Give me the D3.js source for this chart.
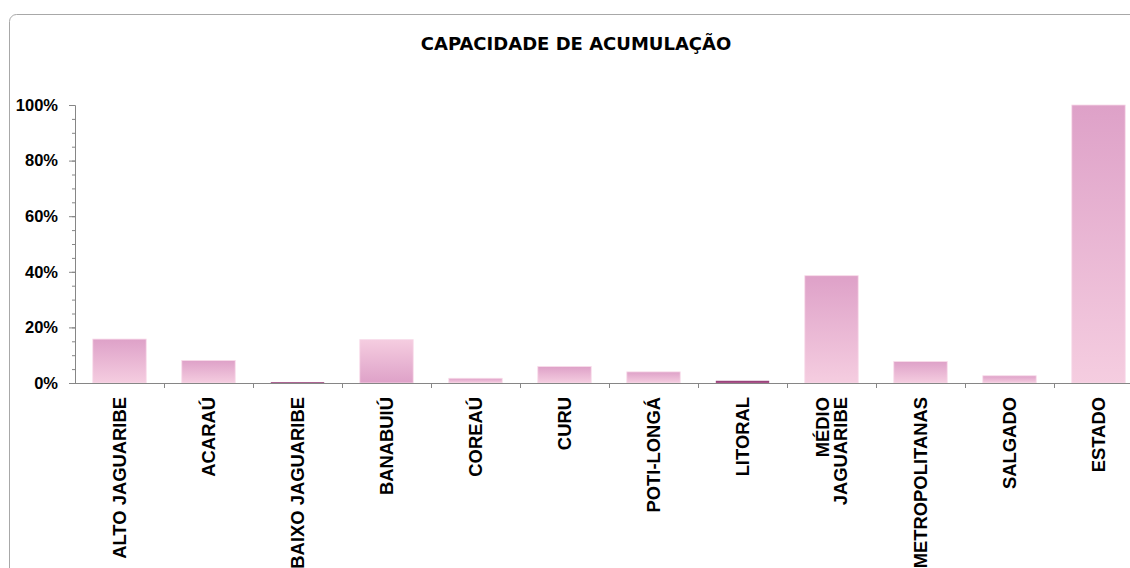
<!DOCTYPE html>
<html>
<head>
<meta charset="utf-8">
<script src="https://cdn.jsdelivr.net/npm/d3@7"></script>
<style>
  body { margin: 0; background: #fff; }
  .tick text { font-family: "Liberation Sans", Arial, sans-serif; font-weight: bold; fill: #000; }
</style>
</head>
<body>
<svg id="chart" width="1130" height="568"></svg>
<script>
let categories = ['ALTO JAGUARIBE', 'ACARAÚ', 'BAIXO JAGUARIBE', 'BANABUIÚ', 'COREAÚ', 'CURU',
  'POTI-LONGÁ', 'LITORAL', 'MÉDIO JAGUARIBE', 'METROPOLITANAS', 'SALGADO', 'ESTADO'];
let capacidade = [0.158, 0.081, 0.003, 0.156, 0.017, 0.059, 0.040, 0.008, 0.386, 0.077, 0.026, 1.00];
let yTicks = [0, 0.2, 0.4, 0.6, 0.8, 1.0];
let title = 'CAPACIDADE DE ACUMULAÇÃO';

let svg = d3.select('#chart');

// chart area frame
svg.append('rect')
  .attr('x', 9.5).attr('y', 14.5)
  .attr('width', 1150).attr('height', 600)
  .attr('rx', 7)
  .attr('fill', 'none')
  .attr('stroke', '#a8a8a8');

svg.append('text')
  .attr('x', 576).attr('y', 50)
  .attr('text-anchor', 'middle')
  .style('font-family', '"DejaVu Sans", Verdana, sans-serif')
  .style('font-weight', 'bold')
  .style('font-size', '18px')
  .text(title);

let x = d3.scaleBand()
  .domain(categories)
  .range([75, 1143])
  .paddingInner(0.4)
  .paddingOuter(0.2);
let y = d3.scaleLinear()
  .domain([0, 1])
  .range([383, 105]);

// gradients: dark at top, light at bottom (banabuiú is the other way round)
let defs = svg.append('defs');
function gradient(id, top, bottom) {
  let g = defs.append('linearGradient').attr('id', id)
    .attr('x1', 0).attr('y1', 0).attr('x2', 0).attr('y2', 1);
  g.append('stop').attr('offset', '0%').attr('stop-color', top);
  g.append('stop').attr('offset', '100%').attr('stop-color', bottom);
}
gradient('gDown', '#dea1c8', '#f5cde0');
gradient('gUp', '#f5cde0', '#dea1c8');
gradient('gDark', '#8e3a72', '#b0588f');

function fillFor(d) {
  if (d.cat == 'BANABUIÚ') return 'url(#gUp)';
  if (y(0) - y(d.v) < 3) return 'url(#gDark)';
  return 'url(#gDown)';
}

let data = categories.map(function(c, i) { return {cat: c, v: capacidade[i]}; });

svg.append('g')
  .selectAll('rect')
  .data(data)
  .join('rect')
  .attr('x', function(d) { return x(d.cat); })
  .attr('width', x.bandwidth())
  .attr('y', function(d) { return y(d.v); })
  .attr('height', function(d) { return y(0) - y(d.v); })
  .attr('fill', fillFor)
  .attr('stroke', function(d) { return y(0) - y(d.v) < 3 ? 'none' : '#f8dbe9'; })
  .attr('stroke-width', 0.8);

// y axis: minor ticks every 5%, labelled every 20%
let minor = svg.append('g')
  .attr('transform', 'translate(75,0)')
  .call(d3.axisLeft(y).tickValues(d3.range(0, 1.0001, 0.05)).tickSize(3).tickFormat(''));
minor.select('.domain').remove();

let yAxis = svg.append('g')
  .attr('transform', 'translate(75,0)')
  .call(d3.axisLeft(y).tickValues(yTicks).tickSize(6).tickPadding(11).tickFormat(d3.format('.0%')));
yAxis.selectAll('text').style('font-size', '16.5px');

svg.selectAll('.domain, .tick line').attr('stroke', '#868686');

// x axis line and category separators
svg.append('line')
  .attr('x1', 75).attr('x2', 1143)
  .attr('y1', y(0) + 0.5).attr('y2', y(0) + 0.5)
  .attr('stroke', '#868686');

svg.append('g')
  .selectAll('line')
  .data(categories)
  .join('line')
  .attr('x1', function(d) { return x(d) - x.step() * 0.2 + x.step() + 0.5; })
  .attr('x2', function(d) { return x(d) - x.step() * 0.2 + x.step() + 0.5; })
  .attr('y1', y(0))
  .attr('y2', y(0) + 5)
  .attr('stroke', '#868686');

// category labels, rotated
let labels = svg.append('g')
  .selectAll('text')
  .data(categories)
  .join('text')
  .attr('transform', function(d) {
    return 'translate(' + (x(d) + x.bandwidth() / 2) + ',397) rotate(-90)';
  })
  .attr('text-anchor', 'end')
  .style('font-family', '"Liberation Sans", Arial, sans-serif')
  .style('font-weight', 'bold')
  .style('font-size', '18.4px');

labels.each(function(d) {
  let lines = d == 'MÉDIO JAGUARIBE' ? ['MÉDIO', 'JAGUARIBE'] : [d];
  let t = d3.select(this);
  lines.forEach(function(l, i) {
    t.append('tspan')
      .attr('x', 0)
      .attr('dy', i == 0 ? (0.35 - (lines.length - 1) * 0.49) + 'em' : '0.98em')
      .text(l);
  });
});
</script>
</body>
</html>
